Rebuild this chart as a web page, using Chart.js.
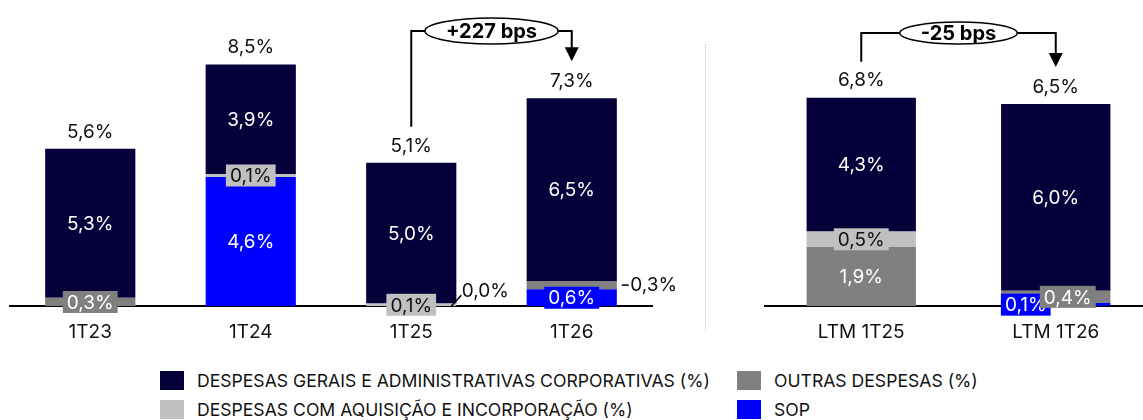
<!DOCTYPE html>
<html>
<head>
<meta charset="utf-8">
<script src="https://cdn.jsdelivr.net/npm/chart.js@4.4.1/dist/chart.umd.min.js"></script>
<style>
  body { margin: 0; width: 1143px; height: 420px; overflow: hidden; background: #fff; position: relative; font-family: Inter, 'Open Sans', sans-serif; }
  #boxL { position: absolute; left: 0; top: 0; width: 692px; height: 359px; }
  #boxR { position: absolute; left: 764px; top: 0; width: 389px; height: 359px; }
  #sep { position: absolute; left: 705px; top: 44px; height: 288px; border-left: 1px dotted #c8c8c8; }
  .leg { position: absolute; display: flex; align-items: center; font-size: 17.6px; color: #111; white-space: nowrap; }
  .leg span { display: inline-block; width: 24px; height: 19px; margin-right: 13px; }
</style>
</head>
<body>
<div id="boxL"><canvas id="chartL"></canvas></div>
<div id="sep"></div>
<div id="boxR"><canvas id="chartR"></canvas></div>
<div id="legenda"></div>

<script>
// dados - trimestre
const categoriasT = ['1T23', '1T24', '1T25', '1T26'];
const dgaT = [5.3, 3.9, 5.0, 6.5];
const aquisicaoT = [null, 0.1, 0.1, null];
const outrasT = [0.3, null, 0.0, 0.3];
const sopT = [null, 4.6, null, 0.6];
const totaisT = [5.6, 8.5, 5.1, 7.3];

// dados - LTM
const categoriasLTM = ['LTM 1T25', 'LTM 1T26'];
const dgaLTM = [4.3, 6.0];
const aquisicaoLTM = [0.5, null];
const outrasLTM = [1.9, 0.4];
const sopLTM = [null, 0.1];
const totaisLTM = [6.8, 6.5];

const variacaoT = '+227 bps';
const variacaoLTM = '-25 bps';

const nomes = {
  dga: 'DESPESAS GERAIS E ADMINISTRATIVAS CORPORATIVAS (%)',
  outras: 'OUTRAS DESPESAS (%)',
  aquisicao: 'DESPESAS COM AQUISIÇÃO E INCORPORAÇÃO (%)',
  sop: 'SOP'
};
const cores = { dga: '#05003a', outras: '#808080', aquisicao: '#c0c0c0', sop: '#0000ff' };
const corTexto = { dga: '#fff', outras: '#fff', aquisicao: '#111', sop: '#fff' };

const FONTE = "Inter, 'Open Sans', sans-serif";
const fmt = v => v.toFixed(1).replace('.', ',') + '%';

// ajustes de posição para rótulos pequenos
const ajustes = {
  '1T25|outras': { fora: true, dx: 74, dy: -15, guia: 'diag' },
  '1T26|outras': { fora: true, dx: 82, dy: 0, guia: 'reta' },
  'LTM 1T26|sop': { dx: -30 },
  'LTM 1T26|outras': { dx: 12 }
};

const rotulos = {
  id: 'rotulos',
  afterDatasetsDraw(chart, args, opts) {
    const ctx = chart.ctx;
    ctx.save();
    ctx.font = '400 19px ' + FONTE;
    ctx.textAlign = 'center';
    ctx.textBaseline = 'middle';
    chart.data.datasets.forEach((ds, di) => {
      const meta = chart.getDatasetMeta(di);
      meta.data.forEach((bar, i) => {
        const v = ds.data[i];
        if (v === null || v === undefined) return;
        const txt = fmt(v);
        const cy = (bar.y + bar.base) / 2;
        const h = Math.abs(bar.base - bar.y);
        const aj = ajustes[chart.data.labels[i] + '|' + ds.key] || {};
        if (aj.fora) {
          const tx = bar.x + aj.dx, ty = cy + aj.dy;
          ctx.strokeStyle = '#000';
          ctx.lineWidth = 1.5;
          ctx.beginPath();
          if (aj.guia === 'diag') {
            ctx.moveTo(bar.x + 40, cy);
            ctx.lineTo(bar.x + 50, ty + 4);
          } else {
            ctx.moveTo(bar.x + 50, ty);
            ctx.lineTo(bar.x + 57, ty);
          }
          ctx.stroke();
          ctx.fillStyle = '#111';
          ctx.fillText(txt, tx, ty);
          return;
        }
        const x = bar.x + (aj.dx || 0);
        if (h < 22) {
          const w = ctx.measureText(txt).width + 8;
          ctx.fillStyle = cores[ds.key];
          ctx.fillRect(x - w / 2, cy - 11, w, 22);
        }
        ctx.fillStyle = corTexto[ds.key];
        ctx.fillText(txt, x, cy + 1);
      });
    });
    // totais
    const totais = opts.totais;
    ctx.fillStyle = '#111';
    chart.data.labels.forEach((lab, i) => {
      const topo = topoDaPilha(chart, i);
      ctx.fillText(fmt(totais[i]), chart.getDatasetMeta(0).data[i].x, topo - 17);
    });
    ctx.restore();
  }
};

function topoDaPilha(chart, i) {
  let topo = Infinity;
  chart.data.datasets.forEach((ds, di) => {
    if (ds.data[i] === null) return;
    topo = Math.min(topo, chart.getDatasetMeta(di).data[i].y);
  });
  return topo;
}

const bolha = {
  id: 'bolha',
  afterDraw(chart, args, opts) {
    const ctx = chart.ctx;
    const x = chart.scales.x;
    const x1 = x.getPixelForValue(opts.de), x2 = x.getPixelForValue(opts.para);
    const y1 = topoDaPilha(chart, opts.de) - 36;
    const y2 = topoDaPilha(chart, opts.para) - 37;
    const ly = opts.linha;
    ctx.save();
    ctx.font = '700 20px ' + FONTE;
    const rx = ctx.measureText(opts.texto).width / 2 + 21;
    const ry = opts.ry;
    const cx = (x1 + x2) / 2;
    ctx.strokeStyle = '#000';
    ctx.lineWidth = 2;
    ctx.beginPath();
    ctx.moveTo(x1, y1);
    ctx.lineTo(x1, ly);
    ctx.lineTo(cx - rx, ly);
    ctx.moveTo(cx + rx, ly);
    ctx.lineTo(x2, ly);
    ctx.lineTo(x2, y2 - 12);
    ctx.stroke();
    ctx.fillStyle = '#000';
    ctx.beginPath();
    ctx.moveTo(x2 - 7, y2 - 14);
    ctx.lineTo(x2 + 7, y2 - 14);
    ctx.lineTo(x2, y2);
    ctx.closePath();
    ctx.fill();
    ctx.beginPath();
    ctx.ellipse(cx, ly, rx, ry, 0, 0, Math.PI * 2);
    ctx.fillStyle = '#fff';
    ctx.fill();
    ctx.lineWidth = 1.5;
    ctx.stroke();
    ctx.fillStyle = '#000';
    ctx.textAlign = 'center';
    ctx.textBaseline = 'middle';
    ctx.fillText(opts.texto, cx, ly + 1);
    ctx.restore();
  }
};

function series(dga, aquisicao, outras, sop) {
  return [
    { key: 'sop', label: nomes.sop, data: sop },
    { key: 'outras', label: nomes.outras, data: outras },
    { key: 'aquisicao', label: nomes.aquisicao, data: aquisicao },
    { key: 'dga', label: nomes.dga, data: dga }
  ].map(d => Object.assign(d, { backgroundColor: cores[d.key], stack: 's' }));
}

function montar(id, labels, datasets, totais, pxPorPonto, padL, padR, bolhaOpts) {
  return new Chart(document.getElementById(id), {
    type: 'bar',
    data: { labels, datasets },
    options: {
      responsive: true,
      maintainAspectRatio: false,
      animation: false,
      categoryPercentage: 0.562,
      barPercentage: 1,
      layout: { padding: { left: padL, right: padR, top: 0, bottom: 0 } },
      plugins: {
        legend: { display: false },
        tooltip: { enabled: false },
        rotulos: { totais },
        bolha: bolhaOpts
      },
      scales: {
        x: {
          stacked: true,
          grid: { display: false, drawTicks: false },
          border: { display: true, color: '#000', width: 2 },
          ticks: { color: '#111', font: { family: FONTE, size: 19 }, padding: 15 }
        },
        y: {
          stacked: true,
          display: false,
          min: 0,
          max: 305 / pxPorPonto
        }
      }
    },
    plugins: [rotulos, bolha]
  });
}

montar('chartL', categoriasT, series(dgaT, aquisicaoT, outrasT, sopT), totaisT, 28, 10, 40,
  { de: 2, para: 3, texto: variacaoT, linha: 31, ry: 13 });
montar('chartR', categoriasLTM, series(dgaLTM, aquisicaoLTM, outrasLTM, sopLTM), totaisLTM, 31, 0, 0,
  { de: 0, para: 1, texto: variacaoLTM, linha: 33, ry: 11 });

// legenda
const itensLegenda = [
  ['dga', 160, 380], ['outras', 737, 380],
  ['aquisicao', 160, 409], ['sop', 737, 409]
];
const leg = document.getElementById('legenda');
itensLegenda.forEach(([k, x, y]) => {
  const d = document.createElement('div');
  d.className = 'leg';
  d.style.left = x + 'px';
  d.style.top = (y - 11) + 'px';
  d.style.height = '22px';
  d.innerHTML = '<span style="background:' + cores[k] + '"></span>' + nomes[k];
  leg.appendChild(d);
});
</script>
</body>
</html>
